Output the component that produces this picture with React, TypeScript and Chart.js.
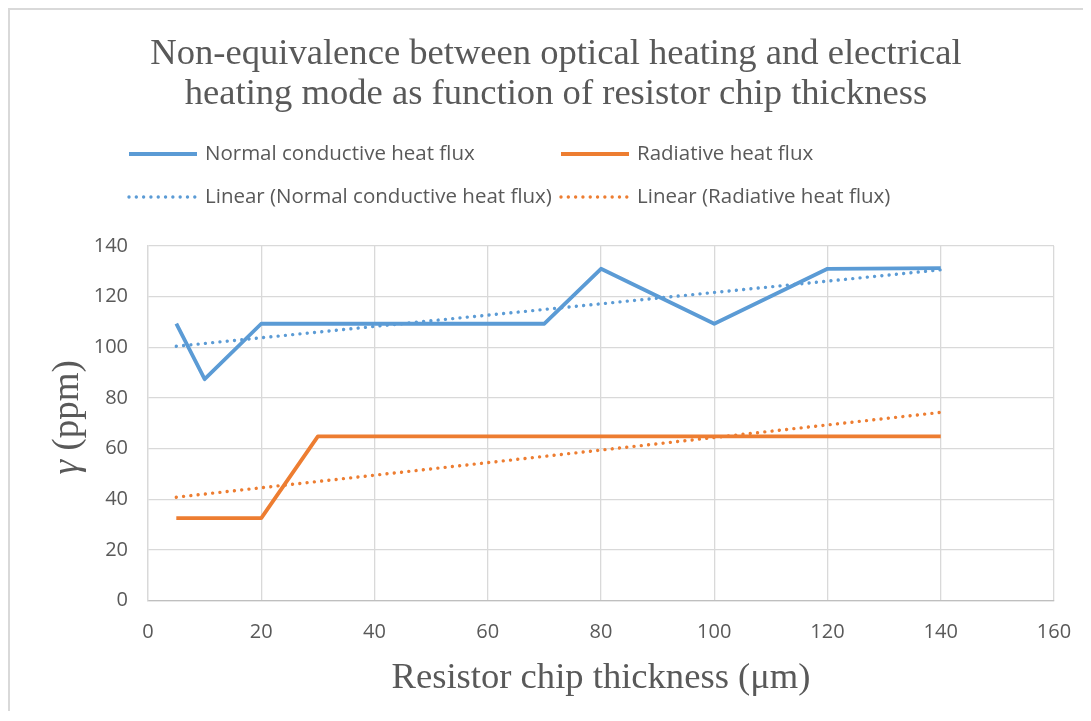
import React, { useEffect, useRef } from "react";
import { Chart, registerables } from "chart.js";

Chart.register(...registerables);

// ---- data ----
const thickness = [5, 10, 20, 30, 40, 50, 60, 70, 80, 100, 120, 140];
const normalFlux = [109.3, 87.4, 109.3, 109.3, 109.3, 109.3, 109.3, 109.3, 131, 109.3, 131, 131.3];
const radiativeFlux = [32.5, 32.5, 32.5, 64.8, 64.8, 64.8, 64.8, 64.8, 64.8, 64.8, 64.8, 64.8];
const trendX = [5, 140];
const normalTrend = [100.4, 130.6];
const radiativeTrend = [40.8, 74.3];
const seriesNames = [
  "Normal conductive heat flux",
  "Radiative heat flux",
  "Linear (Normal conductive heat flux)",
  "Linear (Radiative heat flux)",
];
const titleLines = [
  "Non-equivalence between optical heating and electrical",
  "heating mode as function of resistor chip thickness",
];
const xTitle = "Resistor chip thickness (μm)";
const yTitleSymbol = "γ";
const yTitleUnit = " (ppm)";

const BLUE = "#5B9BD5";
const ORANGE = "#ED7D31";
const TEXT = "#595959";
const GRID = "#D9D9D9";
const SANS = "'Open Sans', sans-serif";
const SERIF = "'Liberation Serif', 'Times New Roman', serif";
const DOT: number[] = [0.01, 7.3];

const toPoints = (xs: number[], ys: number[]) => xs.map((x, i) => ({ x, y: ys[i] }));

const overlayPlugin = {
  id: "overlay",
  afterDraw(chart: any) {
    const ctx: CanvasRenderingContext2D = chart.ctx;
    const area = chart.chartArea;
    ctx.save();
    ctx.fillStyle = TEXT;

    // title
    ctx.font = `36.6px ${SERIF}`;
    ctx.textAlign = "center";
    ctx.textBaseline = "alphabetic";
    ctx.fillText(titleLines[0], 546, 54);
    ctx.fillText(titleLines[1], 546, 94);

    // legend
    const items = [
      { x: 119, y: 144, color: BLUE, dash: [] as number[], w: 3.8 },
      { x: 551, y: 144, color: ORANGE, dash: [] as number[], w: 3.8 },
      { x: 119, y: 187, color: BLUE, dash: DOT, w: 3.4 },
      { x: 551, y: 187, color: ORANGE, dash: DOT, w: 3.4 },
    ];
    ctx.font = `20.5px ${SANS}`;
    ctx.textAlign = "left";
    ctx.textBaseline = "middle";
    items.forEach((it, i) => {
      ctx.save();
      ctx.strokeStyle = it.color;
      ctx.lineWidth = it.w;
      ctx.lineCap = it.dash.length ? "round" : "butt";
      ctx.setLineDash(it.dash);
      ctx.beginPath();
      ctx.moveTo(it.x, it.y);
      ctx.lineTo(it.x + 68, it.y);
      ctx.stroke();
      ctx.restore();
      ctx.fillStyle = TEXT;
      ctx.fillText(seriesNames[i], it.x + 76, it.y);
    });

    // x axis title
    ctx.font = `36.6px ${SERIF}`;
    ctx.textAlign = "center";
    ctx.textBaseline = "alphabetic";
    ctx.fillText(xTitle, (area.left + area.right) / 2, 678);

    // y axis title (italic symbol + upright unit)
    ctx.save();
    ctx.translate(58, (area.top + area.bottom) / 2 - 6);
    ctx.rotate(-Math.PI / 2);
    ctx.textBaseline = "middle";
    ctx.textAlign = "left";
    ctx.font = `italic 37px ${SERIF}`;
    const w1 = ctx.measureText(yTitleSymbol).width;
    ctx.font = `37px ${SERIF}`;
    const w2 = ctx.measureText(yTitleUnit).width;
    const start = -(w1 + w2) / 2;
    ctx.font = `italic 37px ${SERIF}`;
    ctx.fillText(yTitleSymbol, start, 0);
    ctx.font = `37px ${SERIF}`;
    ctx.fillText(yTitleUnit, start + w1, 0);
    ctx.restore();

    ctx.restore();
  },
};

export default function App() {
  const ref = useRef<HTMLCanvasElement>(null);

  useEffect(() => {
    if (!ref.current) return;
    const chart = new Chart(ref.current, {
      type: "line",
      data: {
        datasets: [
          {
            label: seriesNames[0],
            data: toPoints(thickness, normalFlux),
            borderColor: BLUE,
            backgroundColor: BLUE,
            borderWidth: 3.8,
            pointRadius: 0,
            tension: 0,
            borderJoinStyle: "round",
          },
          {
            label: seriesNames[1],
            data: toPoints(thickness, radiativeFlux),
            borderColor: ORANGE,
            backgroundColor: ORANGE,
            borderWidth: 3.8,
            pointRadius: 0,
            tension: 0,
            borderJoinStyle: "round",
          },
          {
            label: seriesNames[2],
            data: toPoints(trendX, normalTrend),
            borderColor: BLUE,
            backgroundColor: BLUE,
            borderWidth: 3.4,
            borderDash: DOT,
            borderCapStyle: "round",
            pointRadius: 0,
          },
          {
            label: seriesNames[3],
            data: toPoints(trendX, radiativeTrend),
            borderColor: ORANGE,
            backgroundColor: ORANGE,
            borderWidth: 3.4,
            borderDash: DOT,
            borderCapStyle: "round",
            pointRadius: 0,
          },
        ],
      },
      options: {
        responsive: false,
        animation: false,
        devicePixelRatio: 1,
        layout: { padding: { top: 236, left: 78, right: 29, bottom: 70.5 } },
        plugins: {
          legend: { display: false },
          title: { display: false },
          tooltip: { enabled: false },
        },
        scales: {
          x: {
            type: "linear",
            min: 0,
            max: 160,
            afterFit: (s: any) => {
              s.height = 40;
            },
            ticks: {
              stepSize: 20,
              padding: 0,
              color: TEXT,
              font: { family: SANS, size: 20 },
              maxRotation: 0,
            },
            grid: {
              color: GRID,
              lineWidth: 1.3,
              drawTicks: true,
              tickLength: 20,
              tickColor: "rgba(0,0,0,0)",
            },
            border: { color: "#BFBFBF", width: 1.3 },
          },
          y: {
            type: "linear",
            min: 0,
            max: 140,
            afterFit: (s: any) => {
              s.width = 60;
            },
            ticks: {
              stepSize: 20,
              padding: 20,
              color: TEXT,
              font: { family: SANS, size: 20 },
            },
            grid: { color: GRID, lineWidth: 1.3, drawTicks: false },
            border: { color: GRID, width: 1.3 },
          },
        },
      },
      plugins: [overlayPlugin],
    } as any);
    return () => chart.destroy();
  }, []);

  return (
    <div
      style={{
        width: 1075,
        height: 703,
        borderTop: "2px solid #D9D9D9",
        borderLeft: "2px solid #D9D9D9",
        boxSizing: "border-box",
        background: "#fff",
        overflow: "hidden",
      }}
    >
      <canvas ref={ref} width={1073} height={701} style={{ display: "block", width: 1073, height: 701 }} />
    </div>
  );
}
